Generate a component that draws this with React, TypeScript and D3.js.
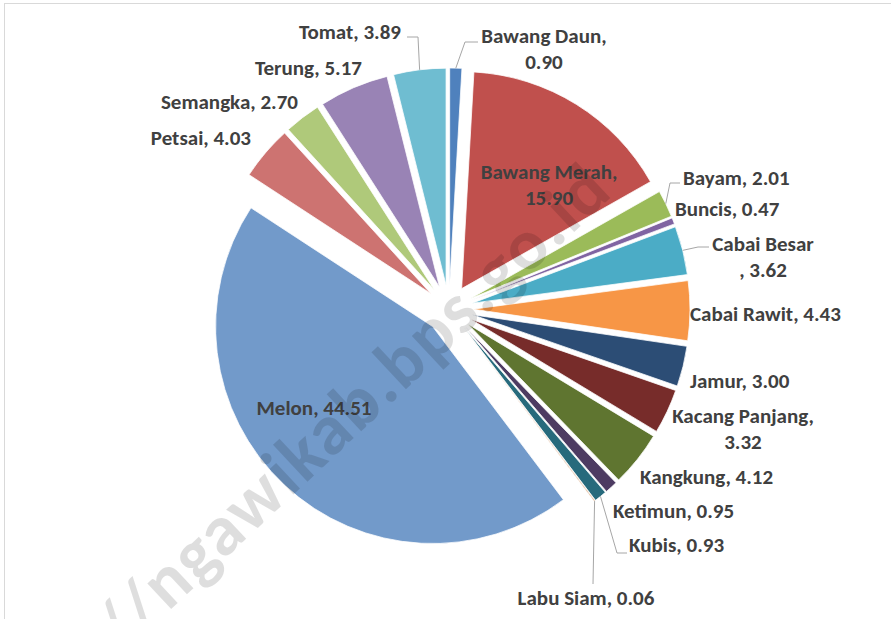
import * as d3 from "d3";

// commodity shares (%), clockwise from 12 o'clock
const names = [
  "Bawang Daun", "Bawang Merah", "Bayam", "Buncis", "Cabai Besar", "Cabai Rawit",
  "Jamur", "Kacang Panjang", "Kangkung", "Ketimun", "Kubis", "Labu Siam",
  "Melon", "Petsai", "Semangka", "Terung", "Tomat",
];
const values = [
  0.9, 15.9, 2.01, 0.47, 3.62, 4.43, 3.0, 3.32, 4.12, 0.95, 0.93, 0.06,
  44.51, 4.03, 2.7, 5.17, 3.89,
];
const colors = [
  "#4F81BD", "#C0504D", "#9BBB59", "#8064A2", "#4BACC6", "#F79646",
  "#2C4D75", "#772C2A", "#5F7530", "#4D3B62", "#276A7C", "#B65708",
  "#729ACA", "#CD7371", "#AFC97A", "#9983B5", "#6FBDD1",
];

// label layout: lines of text, anchor, x, y of first line (vertical centre)
type Label = { lines: string[]; anchor: "start" | "middle" | "end"; x: number; y: number; leader?: [number, number][] };
const labels: Record<string, Label> = {
  "Bawang Daun": { lines: ["Bawang Daun,", "0.90"], anchor: "middle", x: 544, y: 36, leader: [[465, 42], [478, 42]] },
  "Bawang Merah": { lines: ["Bawang Merah,", "15.90"], anchor: "middle", x: 549, y: 172 },
  Bayam: { lines: ["Bayam, 2.01"], anchor: "start", x: 683, y: 178, leader: [[670, 183], [680, 183]] },
  Buncis: { lines: ["Buncis, 0.47"], anchor: "start", x: 675, y: 209 },
  "Cabai Besar": { lines: ["Cabai Besar", ", 3.62"], anchor: "middle", x: 763, y: 244, leader: [[698, 247], [709, 247]] },
  "Cabai Rawit": { lines: ["Cabai Rawit, 4.43"], anchor: "start", x: 690, y: 314 },
  Jamur: { lines: ["Jamur, 3.00"], anchor: "start", x: 690, y: 381 },
  "Kacang Panjang": { lines: ["Kacang Panjang,", "3.32"], anchor: "middle", x: 743, y: 416 },
  Kangkung: { lines: ["Kangkung, 4.12"], anchor: "start", x: 640, y: 477 },
  Ketimun: { lines: ["Ketimun, 0.95"], anchor: "start", x: 613, y: 511 },
  Kubis: { lines: ["Kubis, 0.93"], anchor: "start", x: 629, y: 545, leader: [[617, 553], [627, 553]] },
  "Labu Siam": { lines: ["Labu Siam, 0.06"], anchor: "middle", x: 586, y: 598, leader: [[593, 584]] },
  Melon: { lines: ["Melon, 44.51"], anchor: "middle", x: 314, y: 408 },
  Petsai: { lines: ["Petsai, 4.03"], anchor: "end", x: 251, y: 138 },
  Semangka: { lines: ["Semangka, 2.70"], anchor: "end", x: 298, y: 102 },
  Terung: { lines: ["Terung, 5.17"], anchor: "end", x: 362, y: 68 },
  Tomat: { lines: ["Tomat, 3.89"], anchor: "end", x: 401, y: 32, leader: [[418, 37], [407, 37]] },
};

const W = 891;
const H = 619;
const cx = 449;
const cy = 309;
const R = 217;
const EXPLODE = 24;
const FONT = "Calibri, Carlito, 'Open Sans', sans-serif";

export default function App() {
  const slices = d3
    .pie<number>()
    .sort(null)
    .value((d) => d)(values);
  const arc = d3.arc<d3.PieArcDatum<number>>().innerRadius(0).outerRadius(R);

  return (
    <svg width={W} height={H} style={{ position: "absolute", left: 0, top: 0, background: "#fff" }}>
      <rect x={4.5} y={3.5} width={W + 20} height={H + 20} fill="#fff" stroke="#d9d9d9" />
      {slices.map((s, i) => {
        const mid = (s.startAngle + s.endAngle) / 2;
        const ox = cx + EXPLODE * Math.sin(mid);
        const oy = cy - EXPLODE * Math.cos(mid);
        return (
          <path
            key={names[i]}
            d={arc(s) ?? ""}
            transform={`translate(${ox},${oy})`}
            fill={colors[i]}
            stroke="#fff"
            strokeWidth={0.75}
          />
        );
      })}
      {slices.map((s, i) => {
        const lb = labels[names[i]];
        if (!lb.leader) return null;
        const mid = (s.startAngle + s.endAngle) / 2;
        const px = cx + (EXPLODE + R) * Math.sin(mid);
        const py = cy - (EXPLODE + R) * Math.cos(mid);
        const pts: [number, number][] = [[px, py], ...lb.leader];
        return (
          <path key={"l" + i} d={d3.line()(pts) ?? ""} fill="none" stroke="#a6a6a6" strokeWidth={1} />
        );
      })}
      {names.map((n) => {
        const lb = labels[n];
        return (
          <text
            key={"t" + n}
            x={lb.x}
            y={lb.y}
            textAnchor={lb.anchor}
            fontFamily={FONT}
            fontWeight="bold"
            fontSize={21}
            fill="#404040"
          >
            {lb.lines.map((t, j) => (
              <tspan key={j} x={lb.x} y={lb.y + j * 26} dominantBaseline="central">
                {t}
              </tspan>
            ))}
          </text>
        );
      })}
      {/* watermark */}
      <g
        transform="translate(168,612) rotate(-43.1)"
        fontFamily={FONT}
        fontWeight="bold"
        fontSize={72}
        fill="#000"
        fillOpacity={0.13}
      >
        <text x={-2} textAnchor="end">http://</text>
        <text x={0} textLength={610} lengthAdjust="spacing">ngawikab.bps.go.id</text>
      </g>
    </svg>
  );
}
